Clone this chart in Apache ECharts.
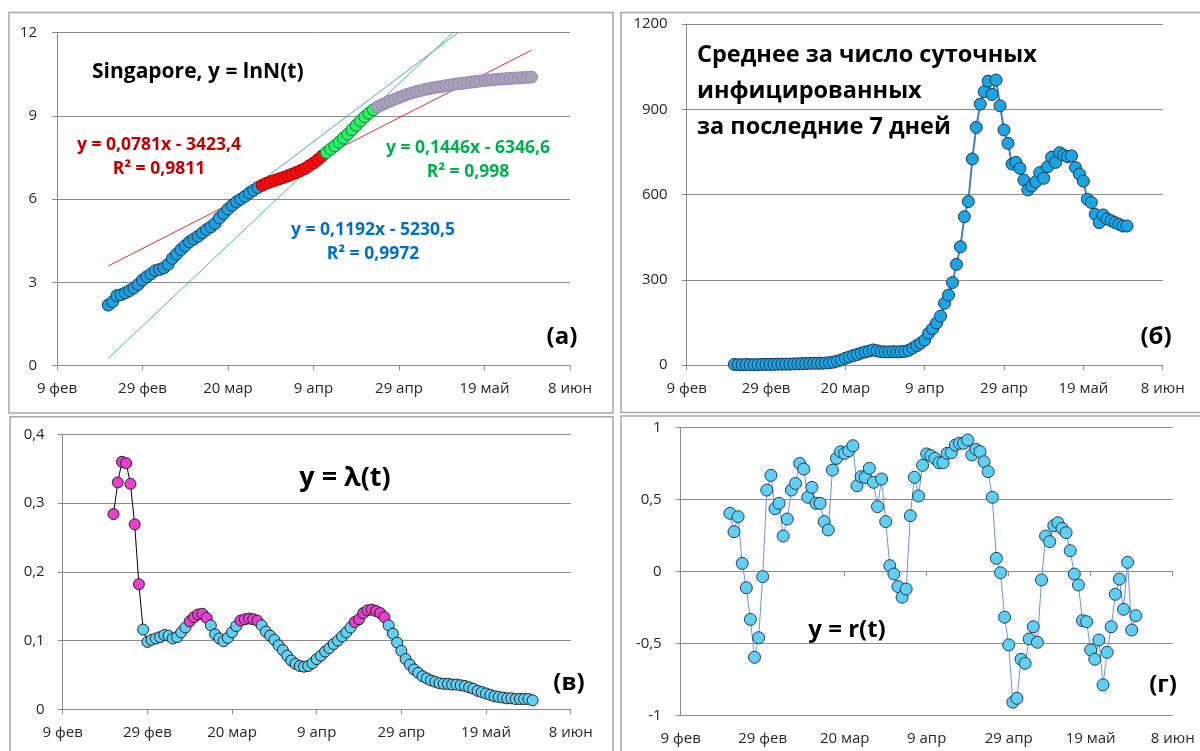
<!DOCTYPE html>
<html><head><meta charset="utf-8">
<script src="https://cdn.jsdelivr.net/npm/echarts@6/dist/echarts.min.js"></script>
<style>html,body{margin:0;padding:0;background:#fff}#c{width:1200px;height:751px}</style>
</head><body><div id="c"></div>
<script>
// ---- tick labels (days since 9 Feb, every 20 days) ----
const tickLabels = ['9 фев', '29 фев', '20 мар', '9 апр', '29 апр', '19 май', '8 июн'];
const firstDay = 12; // first data point = day 12 (21 Feb)

// ---- panel (a): ln N(t), four coloured segments ----
const lnBlueStart = 12;
const lnBlue = [2.18,2.30,2.52,2.55,2.62,2.70,2.80,2.92,3.08,3.20,3.30,3.42,3.46,3.52,3.65,3.86,4.02,4.18,4.32,4.46,4.56,4.66,4.78,4.90,5.00,5.12,5.32,5.48,5.64,5.78,5.90,6.00,6.10,6.22,6.32,6.42];
const lnRedStart = 48;
const lnRed = [6.50,6.57,6.63,6.68,6.73,6.78,6.84,6.90,6.96,7.03,7.10,7.20,7.30,7.42,7.55];
const lnGreenStart = 63;
const lnGreen = [7.68,7.80,7.92,8.05,8.20,8.34,8.50,8.66,8.82,8.97,9.10,9.22];
const lnGreyStart = 75;
const lnGrey = [9.33,9.40,9.47,9.54,9.60,9.66,9.72,9.78,9.83,9.87,9.91,9.95,9.98,10.01,10.04,10.06,10.09,10.11,10.14,10.16,10.18,10.20,10.22,10.24,10.26,10.27,10.29,10.30,10.32,10.33,10.34,10.35,10.36,10.37,10.38,10.39,10.40];
// trend lines: [day, value] end points
const trendRed = [[12, 3.59], [111, 11.37]];
const trendGreen = [[12, 0.26], [92.6, 12]];
const trendBlue = [[47.5, 6.62], [93.8, 12]];

// ---- panel (б): 7-day average of daily infections ----
const avg7 = [2,1,1,2,1,1,1,2,
  2,2,2,3,3,3,3,4,4,
  5,5,6,6,6,6,7,8,10,
  14,18,24,28,33,37,42,46,
  49,53,50,47,46,46,47,
  46,47,48,52,60,68,77,
  88,112,128,148,172,217,246,290,354,416,522,575,725,836,918,962,999,952,1003,912,827,780,707,713,692,651,616,630,645,677,657,698,731,713,747,739,733,736,695,672,647,583,572,530,501,528,514,508,501,495,489,489];

// ---- panel (в): lambda(t) ----
const lambda = [0.284,0.330,0.360,0.358,0.328,0.269,0.182,0.116,0.098,0.101,
  0.103,0.105,0.108,0.107,0.103,0.105,0.112,0.119,0.128,0.134,
  0.138,0.139,0.133,0.122,0.109,0.103,0.099,0.104,0.112,0.121,
  0.129,0.131,0.132,0.131,0.129,0.122,0.113,0.107,0.101,0.093,
  0.086,0.078,0.071,0.066,0.063,0.062,0.063,0.067,0.073,0.078,
  0.084,0.089,0.095,0.100,0.106,0.112,0.119,0.127,0.131,0.140,
  0.144,0.145,0.143,0.140,0.134,0.122,0.110,0.097,0.085,0.073,
  0.065,0.058,0.053,0.048,0.045,0.042,0.040,0.038,0.037,0.037,
  0.036,0.036,0.035,0.034,0.032,0.030,0.027,0.025,0.023,0.021,
  0.019,0.018,0.017,0.016,0.016,0.015,0.015,0.015,0.015,0.013];
const lambdaPeaks = [[12, 18], [30, 34], [42, 46], [69, 76]];

// ---- panel (г): r(t) ----
const rValues = [0.403,0.275,0.379,0.055,-0.114,-0.334,-0.597,-0.461,-0.037,0.564,
  0.666,0.435,0.472,0.245,0.363,0.564,0.61,0.749,0.710,0.514,
  0.583,0.472,0.472,0.345,0.287,0.703,0.784,0.83,0.819,0.837,
  0.872,0.594,0.657,0.652,0.715,0.618,0.449,0.641,0.345,0.039,
  -0.019,-0.106,-0.18,-0.123,0.386,0.653,0.523,0.736,0.815,0.803,
  0.784,0.754,0.754,0.819,0.824,0.877,0.889,0.889,0.912,0.808,
  0.847,0.831,0.761,0.692,0.514,0.090,-0.010,-0.319,-0.511,-0.909,
  -0.882,-0.611,-0.639,-0.470,-0.385,-0.493,-0.060,0.245,0.206,0.317,
  0.337,0.298,0.268,0.143,-0.019,-0.095,-0.343,-0.350,-0.546,-0.611,
  -0.477,-0.789,-0.563,-0.385,-0.160,-0.054,-0.264,0.062,-0.408,-0.308];

// ---------------------------------------------------------------
const FONT = '"Open Sans", "Noto Sans", sans-serif';
const AX = '#8c8c8c';
const TXT = '#262626';
const pairs = (arr, start) => arr.map((v, i) => [start + i, v]);
const comma = v => String(+v.toFixed(2)).replace('.', ',');

function xAx(gi, extra) {
  return Object.assign({
    type: 'value', gridIndex: gi, min: 0, max: 120, interval: 20,
    axisLine: { show: true, onZero: false, lineStyle: { color: AX, width: 1 } },
    axisTick: { show: true, length: 5, lineStyle: { color: AX } },
    splitLine: { show: false },
    axisLabel: { formatter: v => tickLabels[Math.round(v / 20)], fontFamily: FONT, fontSize: 15, color: TXT, margin: 16, showMinLabel: true, showMaxLabel: true }
  }, extra || {});
}
function yAx(gi, min, max, interval, margin) {
  return {
    type: 'value', gridIndex: gi, min, max, interval,
    axisLine: { show: true, onZero: false, lineStyle: { color: AX } },
    axisTick: { show: true, length: 5, lineStyle: { color: AX } },
    splitLine: { show: true, lineStyle: { color: AX, width: 1 } },
    axisLabel: { formatter: comma, fontFamily: FONT, fontSize: 15, color: TXT, margin }
  };
}

const lambdaData = pairs(lambda, firstDay).map(p => {
  const peak = lambdaPeaks.some(r => p[0] >= r[0] && p[0] <= r[1]);
  return { value: p, itemStyle: { color: peak ? '#e83fcf' : '#5fd0f4' } };
});

function trend(data, color) {
  return { type: 'line', xAxisIndex: 0, yAxisIndex: 0, data, symbol: 'none', silent: true, z: 1,
    lineStyle: { color, width: 1 } };
}
function scatterA(data, fill, border) {
  return { type: 'scatter', xAxisIndex: 0, yAxisIndex: 0, data, symbolSize: 12, z: 3, silent: true,
    itemStyle: { color: fill, borderColor: border, borderWidth: 1, opacity: 1 } };
}

function txt(text, x, y, size, color, align, weight) {
  return { type: 'text', x, y, z: 100, silent: true,
    style: { text, font: (weight || 'bold') + ' ' + size + 'px ' + FONT, fill: color,
      textAlign: align || 'center', align: align || 'center', textVerticalAlign: 'middle', verticalAlign: 'middle' } };
}
function box(x, y, w, h) {
  return { type: 'rect', shape: { x, y, width: w, height: h }, silent: true, z: 0,
    style: { fill: 'none', stroke: '#a6a6a6', lineWidth: 1.5 } };
}

const option = {
  animation: false,
  backgroundColor: '#fff',
  grid: [
    { left: 57, top: 32.7, width: 513, height: 332.8 },
    { left: 686.7, top: 24, width: 476, height: 341 },
    { left: 62.7, top: 434.3, width: 508, height: 275 },
    { left: 680.7, top: 427.3, width: 492, height: 288 }
  ],
  xAxis: [
    xAx(0), xAx(1), xAx(2),
    xAx(3, { position: 'bottom', axisLine: { show: false, onZero: false }, axisTick: { show: false } }),
    xAx(3, { position: 'bottom', axisLine: { show: true, onZero: true, lineStyle: { color: AX } }, axisLabel: { show: false } })
  ],
  yAxis: [
    yAx(0, 0, 12, 3, 20),
    yAx(1, 0, 1200, 300, 19),
    yAx(2, 0, 0.4, 0.1, 18),
    yAx(3, -1, 1, 0.5, 19)
  ],
  series: [
    trend(trendRed, '#e0303a'),
    trend(trendGreen, '#45c283'),
    trend(trendBlue, '#4fa0e0'),
    scatterA(pairs(lnBlue, lnBlueStart), '#1fa0de', '#1b3a5c'),
    scatterA(pairs(lnRed, lnRedStart), '#ff0a0a', '#9a0000'),
    scatterA(pairs(lnGreen, lnGreenStart), '#2cf06a', '#0b7a32'),
    scatterA(pairs(lnGrey, lnGreyStart), '#a9a3b6', '#9385b8'),
    { type: 'line', xAxisIndex: 1, yAxisIndex: 1, data: pairs(avg7, firstDay), symbol: 'circle', symbolSize: 12,
      showAllSymbol: true, silent: true, z: 3,
      lineStyle: { color: '#4a7ebb', width: 2 },
      itemStyle: { color: '#1ba5e3', borderColor: '#1e3552', borderWidth: 1 } },
    { type: 'line', xAxisIndex: 2, yAxisIndex: 2, data: lambdaData, symbol: 'circle', symbolSize: 11,
      showAllSymbol: true, silent: true, z: 3,
      lineStyle: { color: '#000', width: 1 },
      itemStyle: { color: '#5fd0f4', borderColor: '#222', borderWidth: 1 } },
    { type: 'line', xAxisIndex: 3, yAxisIndex: 3, data: pairs(rValues, firstDay), symbol: 'circle', symbolSize: 12,
      showAllSymbol: true, silent: true, z: 3,
      lineStyle: { color: '#6b95d6', width: 1 },
      itemStyle: { color: '#5fd0f4', borderColor: '#243c55', borderWidth: 1 } }
  ],
  graphic: [
    box(9, 12.5, 604, 400.5),
    box(621, 12.5, 600, 400),
    box(10, 416.7, 603, 400),
    box(621, 416, 600, 400),
    txt('Singapore, y = lnN(t)', 92, 72, 21, '#000', 'left'),
    txt('y = 0,0781x - 3423,4', 159, 145, 17.5, '#c00000'),
    txt('R² = 0,9811', 159, 169, 17.5, '#c00000'),
    txt('y = 0,1446x - 6346,6', 468, 148, 17.5, '#00b050'),
    txt('R² = 0,998', 468, 172, 17.5, '#00b050'),
    txt('y = 0,1192x - 5230,5', 373, 230, 17.5, '#0070c0'),
    txt('R² = 0,9972', 373, 254, 17.5, '#0070c0'),
    txt('(a)', 562, 337, 24, '#000'),
    txt('Среднее за число суточных', 697, 55, 23.5, '#000', 'left'),
    txt('инфицированных', 697, 91.5, 23.5, '#000', 'left'),
    txt('за последние 7 дней', 697, 127, 23.5, '#000', 'left'),
    txt('(б)', 1156, 337, 24, '#000'),
    txt('y = λ(t)', 345, 478, 27, '#000'),
    txt('(в)', 569, 683, 24, '#000'),
    txt('y = r(t)', 847, 630, 24, '#000'),
    txt('(г)', 1163, 685, 24, '#000')
  ]
};
const chart = echarts.init(document.getElementById('c'), null, { renderer: 'canvas' });
chart.setOption(option);
</script></body></html>
